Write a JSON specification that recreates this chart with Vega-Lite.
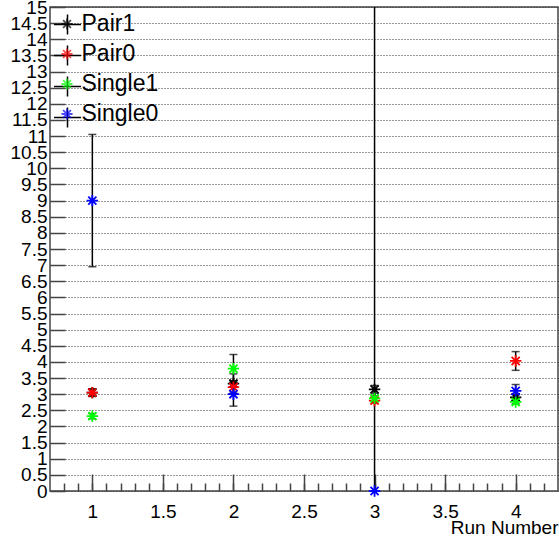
{
  "$schema": "https://vega.github.io/schema/vega-lite/v6.json",
  "width": 508,
  "height": 484,
  "autosize": {"type": "none"},
  "padding": {"left": 50, "top": 7, "right": 1, "bottom": 45},
  "background": "white",
  "config": {
    "font": "Liberation Sans",
    "view": {"stroke": "#444", "strokeWidth": 1.5},
    "axis": {
      "domain": false,
      "tickColor": "#444",
      "tickWidth": 1.5,
      "labelColor": "black",
      "labelFont": "Liberation Sans",
      "labelFontSize": 19,
      "titleFont": "Liberation Sans",
      "titleFontSize": 19,
      "titleFontWeight": "normal",
      "titleColor": "black",
      "labelOverlap": false,
      "labelFlush": false
    }
  },
  "data": {
    "values": [
      {"run": 1, "series": "Pair1", "value": 3.05, "err": 0.1},
      {"run": 2, "series": "Pair1", "value": 3.33, "err": 0.3},
      {"run": 3, "series": "Pair1", "value": 3.15, "err": 0.12},
      {"run": 4, "series": "Pair1", "value": 2.9, "err": 0.1},
      {"run": 1, "series": "Pair0", "value": 3.05, "err": 0.12},
      {"run": 2, "series": "Pair0", "value": 3.22, "err": 0.2},
      {"run": 3, "series": "Pair0", "value": 2.8, "err": 0.08},
      {"run": 4, "series": "Pair0", "value": 4.03, "err": 0.29},
      {"run": 1, "series": "Single1", "value": 2.32, "err": 0.08},
      {"run": 2, "series": "Single1", "value": 3.79, "err": 0.44},
      {"run": 3, "series": "Single1", "value": 2.87, "err": 0.08},
      {"run": 4, "series": "Single1", "value": 2.76, "err": 0.06},
      {"run": 1, "series": "Single0", "value": 9.0, "err": 2.05},
      {"run": 2, "series": "Single0", "value": 3.0, "err": 0.37},
      {"run": 3, "series": "Single0", "value": 0.0, "err": 16},
      {"run": 4, "series": "Single0", "value": 3.1, "err": 0.2}
    ]
  },
  "layer": [
    {
      "mark": {
        "type": "errorbar",
        "color": "black",
        "clip": true,
        "ticks": {"size": 8, "thickness": 1.5},
        "rule": {"strokeWidth": 1.5}
      },
      "encoding": {
        "x": {
          "field": "run",
          "type": "quantitative",
          "scale": {"domain": [0.7, 4.3], "nice": false, "zero": false},
          "axis": {
            "orient": "bottom",
            "values": [0.8, 0.9, 1.0, 1.1, 1.2, 1.3, 1.4, 1.5, 1.6, 1.7, 1.8, 1.9, 2.0, 2.1, 2.2, 2.3, 2.4, 2.5, 2.6, 2.7, 2.8, 2.9, 3.0, 3.1, 3.2, 3.3, 3.4, 3.5, 3.6, 3.7, 3.8, 3.9, 4.0, 4.1, 4.2],
            "labels": false,
            "grid": false,
            "tickSize": -8,
            "title": null
          }
        },
        "y": {
          "field": "value",
          "type": "quantitative",
          "scale": {"domain": [0, 15], "nice": false, "zero": false},
          "axis": {
            "orient": "left",
            "values": [0, 0.5, 1, 1.5, 2, 2.5, 3, 3.5, 4, 4.5, 5, 5.5, 6, 6.5, 7, 7.5, 8, 8.5, 9, 9.5, 10, 10.5, 11, 11.5, 12, 12.5, 13, 13.5, 14, 14.5, 15],
            "format": "~g",
            "grid": true,
            "gridColor": "#333",
            "gridDash": [1, 2],
            "gridWidth": 1,
            "tickSize": -15,
            "labelPadding": 18,
            "title": null
          }
        },
        "yError": {"field": "err"}
      }
    },
    {
      "mark": {
        "type": "point",
        "shape": "M-1,0L1,0M0,-1L0,1M-0.71,-0.71L0.71,0.71M-0.71,0.71L0.71,-0.71",
        "filled": false,
        "size": 130,
        "strokeWidth": 1.8
      },
      "encoding": {
        "x": {
          "field": "run",
          "type": "quantitative",
          "scale": {"domain": [0.7, 4.3], "nice": false, "zero": false},
          "axis": {
            "orient": "bottom",
            "values": [1, 1.5, 2, 2.5, 3, 3.5, 4],
            "format": "~g",
            "grid": false,
            "tickSize": -17,
            "labelPadding": 28,
            "title": "Run Number",
            "titleX": 508,
            "titleY": 42,
            "titleAlign": "right",
            "titleBaseline": "alphabetic",
            "titleAnchor": "end"
          }
        },
        "y": {
          "field": "value",
          "type": "quantitative",
          "scale": {"domain": [0, 15], "nice": false, "zero": false},
          "axis": {
            "orient": "left",
            "values": [0, 0.5, 1, 1.5, 2, 2.5, 3, 3.5, 4, 4.5, 5, 5.5, 6, 6.5, 7, 7.5, 8, 8.5, 9, 9.5, 10, 10.5, 11, 11.5, 12, 12.5, 13, 13.5, 14, 14.5, 15],
            "format": "~g",
            "grid": true,
            "gridColor": "#333",
            "gridDash": [1, 2],
            "gridWidth": 1,
            "tickSize": -15,
            "labelPadding": 18,
            "title": null
          }
        },
        "color": {
          "field": "series",
          "type": "nominal",
          "scale": {
            "domain": ["Pair1", "Pair0", "Single1", "Single0"],
            "range": ["#000000", "#ff0000", "#00ff00", "#0000ff"]
          },
          "legend": {
            "orient": "none",
            "legendX": 2.5,
            "legendY": 2.5,
            "title": null,
            "padding": 0,
            "zindex": 2,
            "symbolType": "M-0.41,0L0.41,0M0,-0.41L0,0.41M-0.29,-0.29L0.29,0.29M-0.29,0.29L0.29,-0.29",
            "symbolSize": 729,
            "symbolStrokeWidth": 1.8,
            "symbolFillColor": "transparent",
            "labelFont": "Liberation Sans",
            "labelFontSize": 23,
            "labelColor": "black",
            "labelOffset": 0,
            "rowPadding": 3
          }
        },
        "opacity": {
          "field": "series",
          "type": "ordinal",
          "scale": {
            "domain": ["Pair1", "Pair0", "Single1", "Single0"],
            "range": [1, 1, 1, 1]
          },
          "legend": {
            "orient": "top-left",
            "offset": 2.5,
            "title": null,
            "padding": 0,
            "zindex": 1,
            "symbolType": "M-1,0L1,0M0,-0.74L0,0.74",
            "symbolSize": 729,
            "symbolStrokeWidth": 1.5,
            "symbolStrokeColor": "black",
            "symbolFillColor": "transparent",
            "labelExpr": "''",
            "labelFontSize": 23,
            "rowPadding": 3
          }
        }
      }
    }
  ],
  "resolve": {"axis": {"x": "independent"}}
}
